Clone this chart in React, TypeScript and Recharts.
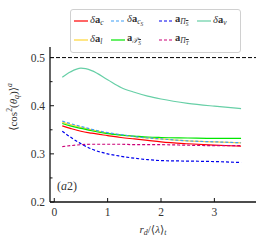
import { LineChart, Line, XAxis, YAxis, ReferenceLine } from 'recharts';

const xs = [0.15, 0.3, 0.5, 0.7, 1.0, 1.25, 1.5, 1.75, 2.0, 2.5, 3.0, 3.5];
const daC = [0.358, 0.353, 0.347, 0.343, 0.338, 0.334, 0.331, 0.328, 0.325, 0.321, 0.318, 0.316];
const daCS = [0.368, 0.363, 0.357, 0.351, 0.344, 0.340, 0.336, 0.333, 0.331, 0.327, 0.325, 0.323];
const aPiS = [0.347, 0.335, 0.321, 0.310, 0.300, 0.295, 0.291, 0.288, 0.286, 0.285, 0.284, 0.282];
const daNu = [0.459, 0.470, 0.478, 0.473, 0.454, 0.438, 0.428, 0.420, 0.414, 0.405, 0.399, 0.394];
const daL = [0.366, 0.361, 0.355, 0.350, 0.343, 0.339, 0.336, 0.333, 0.331, 0.327, 0.325, 0.323];
const aTS = [0.363, 0.358, 0.353, 0.348, 0.342, 0.339, 0.337, 0.335, 0.334, 0.333, 0.332, 0.332];
const aPiT = [0.315, 0.317, 0.319, 0.320, 0.320, 0.320, 0.319, 0.319, 0.319, 0.318, 0.317, 0.317];

const xTicks = [0, 1, 2, 3];
const yTicks = [0.2, 0.25, 0.3, 0.35, 0.4, 0.45, 0.5];
const yLabels = [0.2, 0.3, 0.4, 0.5];

const data = xs.map((x, i) => ({
  x,
  daC: daC[i],
  daCS: daCS[i],
  aPiS: aPiS[i],
  daNu: daNu[i],
  daL: daL[i],
  aTS: aTS[i],
  aPiT: aPiT[i],
}));

const serif = '"Liberation Serif", "DejaVu Serif", serif';
const frame = '#111';

const BottomTick = (p: any) => (
  <g>
    <line x1={p.x} x2={p.x} y1={p.y} y2={p.y - 4} stroke={frame} />
    <text x={p.x} y={p.y + 14} textAnchor="middle" fontSize={11.5} fontFamily={serif} fill="#333">
      {p.payload.value}
    </text>
  </g>
);
const TopTick = (p: any) => <line x1={p.x} x2={p.x} y1={p.y} y2={p.y + 4} stroke={frame} />;
const LeftTick = (p: any) => {
  const v = p.payload.value;
  const major = yLabels.some((l) => Math.abs(l - v) < 1e-6);
  return (
    <g>
      <line x1={p.x} x2={p.x + (major ? 4 : 2.5)} y1={p.y} y2={p.y} stroke={frame} />
      {major && (
        <text x={p.x - 5} y={p.y + 4} textAnchor="end" fontSize={11.5} fontFamily={serif} fill="#333">
          {v.toFixed(1)}
        </text>
      )}
    </g>
  );
};
const RightTick = (p: any) => {
  const v = p.payload.value;
  const major = yLabels.some((l) => Math.abs(l - v) < 1e-6);
  return <line x1={p.x} x2={p.x - (major ? 4 : 2.5)} y1={p.y} y2={p.y} stroke={frame} />;
};

const Sub = ({ children }: any) => <sub style={{ fontSize: '0.72em', verticalAlign: '-0.3em' }}>{children}</sub>;
const Bar = ({ children }: any) => <span style={{ textDecoration: 'overline' }}>{children}</span>;

const legendItems = [
  { color: '#ff0000', dash: '', label: <><i>δ</i><b>a</b><Sub><i>c</i></Sub></> },
  { color: '#3d9df5', dash: '3 2', label: <><i>δ</i><b>a</b><Sub><i>c</i><Sub><i>S</i></Sub></Sub></> },
  { color: '#0000ee', dash: '3 2', label: <><b>a</b><Sub><i>Π</i><Sub><Bar><i>S</i></Bar></Sub></Sub></> },
  { color: '#66cfa6', dash: '', label: <><i>δ</i><b>a</b><Sub><i>ν</i></Sub></> },
  { color: '#ffd633', dash: '', label: <><i>δ</i><b>a</b><Sub><i>l</i></Sub></> },
  { color: '#00e600', dash: '', label: <><b>a</b><Sub><i>𝒯</i><Sub><Bar><i>S</i></Bar></Sub></Sub></> },
  { color: '#cc0077', dash: '3 2', label: <><b>a</b><Sub><i>Π</i><Sub><Bar><i>T</i></Bar></Sub></Sub></> },
];

const series = [
  { key: 'daC', color: '#ff0000', dash: '' },
  { key: 'daL', color: '#ffd633', dash: '' },
  { key: 'aTS', color: '#00e600', dash: '' },
  { key: 'daCS', color: '#3d9df5', dash: '3 2' },
  { key: 'aPiT', color: '#cc0077', dash: '3 2' },
  { key: 'aPiS', color: '#0000ee', dash: '3 2' },
  { key: 'daNu', color: '#66cfa6', dash: '' },
];

const axisLine = { stroke: frame, strokeWidth: 1.3 };

export default function App() {
  return (
    <div style={{ position: 'absolute', left: 0, top: 0, width: 267, height: 246, background: '#fff' }}>
      <LineChart width={267} height={246} data={data} margin={{ top: 47, right: 11, bottom: 14, left: 10 }}>
        <XAxis
          dataKey="x"
          type="number"
          domain={[-0.08, 3.78]}
          ticks={xTicks}
          tickSize={0}
          tickMargin={0}
          tickLine={false}
          tick={BottomTick}
          height={30}
          axisLine={axisLine}
          allowDataOverflow
        />
        <XAxis
          xAxisId="top"
          orientation="top"
          dataKey="x"
          type="number"
          domain={[-0.08, 3.78]}
          ticks={xTicks}
          tickSize={0}
          tickMargin={0}
          tickLine={false}
          tick={TopTick}
          height={0}
          axisLine={axisLine}
          allowDataOverflow
        />
        <YAxis
          type="number"
          domain={[0.2, 0.522]}
          ticks={yTicks}
          tickSize={0}
          tickMargin={0}
          tickLine={false}
          tick={LeftTick}
          width={40}
          axisLine={axisLine}
          allowDataOverflow
        />
        <YAxis
          yAxisId="right"
          orientation="right"
          type="number"
          domain={[0.2, 0.522]}
          ticks={yTicks}
          tickSize={0}
          tickMargin={0}
          tickLine={false}
          tick={RightTick}
          width={0}
          axisLine={axisLine}
          allowDataOverflow
        />
        <ReferenceLine y={0.5} stroke="#000" strokeDasharray="4 2" strokeWidth={1} />
        {series.map((s) => (
          <Line
            key={s.key}
            dataKey={s.key}
            type="monotone"
            stroke={s.color}
            strokeWidth={1.2}
            strokeDasharray={s.dash}
            dot={false}
            isAnimationActive={false}
          />
        ))}
      </LineChart>
      <div
        style={{
          position: 'absolute',
          left: 70,
          top: 9,
          border: '1px solid #d0d0d0',
          borderRadius: 3,
          background: '#fff',
          padding: '2px 3px',
          display: 'grid',
          gridTemplateColumns: '37px 48px 38px 40px',
          fontFamily: serif,
          fontSize: 10.5,
          color: '#333',
          lineHeight: '14px',
        }}
      >
        {legendItems.map((it, i) => (
          <div key={i} style={{ display: 'flex', alignItems: 'center', whiteSpace: 'nowrap' }}>
            <svg width={14} height={6} style={{ marginRight: 2 }}>
              <line x1={0} x2={14} y1={3} y2={3} stroke={it.color} strokeWidth={1.2} strokeDasharray={it.dash} />
            </svg>
            <span>{it.label}</span>
          </div>
        ))}
      </div>
      <div
        style={{
          position: 'absolute',
          left: 13,
          top: 107,
          transform: 'translate(-50%, -50%) rotate(-90deg)',
          fontFamily: serif,
          fontSize: 11,
          color: '#333',
          whiteSpace: 'nowrap',
        }}
      >
        ⟨cos<sup style={{ fontSize: '0.7em' }}>2</sup>(<i>θ</i><Sub><i>q</i></Sub>)⟩<sup style={{ fontSize: '0.7em' }}><i>a</i></sup>
      </div>
      <div
        style={{
          position: 'absolute',
          left: 153,
          top: 230,
          transform: 'translate(-50%, -50%)',
          fontFamily: serif,
          fontSize: 11,
          color: '#333',
          whiteSpace: 'nowrap',
        }}
      >
        <i>r</i><Sub><i>d</i></Sub>/⟨<i>λ</i>⟩<Sub><i>t</i></Sub>
      </div>
      <div
        style={{
          position: 'absolute',
          left: 57,
          top: 179,
          fontFamily: serif,
          fontSize: 12,
          color: '#333',
          whiteSpace: 'nowrap',
        }}
      >
        (<i>a</i>2)
      </div>
    </div>
  );
}
